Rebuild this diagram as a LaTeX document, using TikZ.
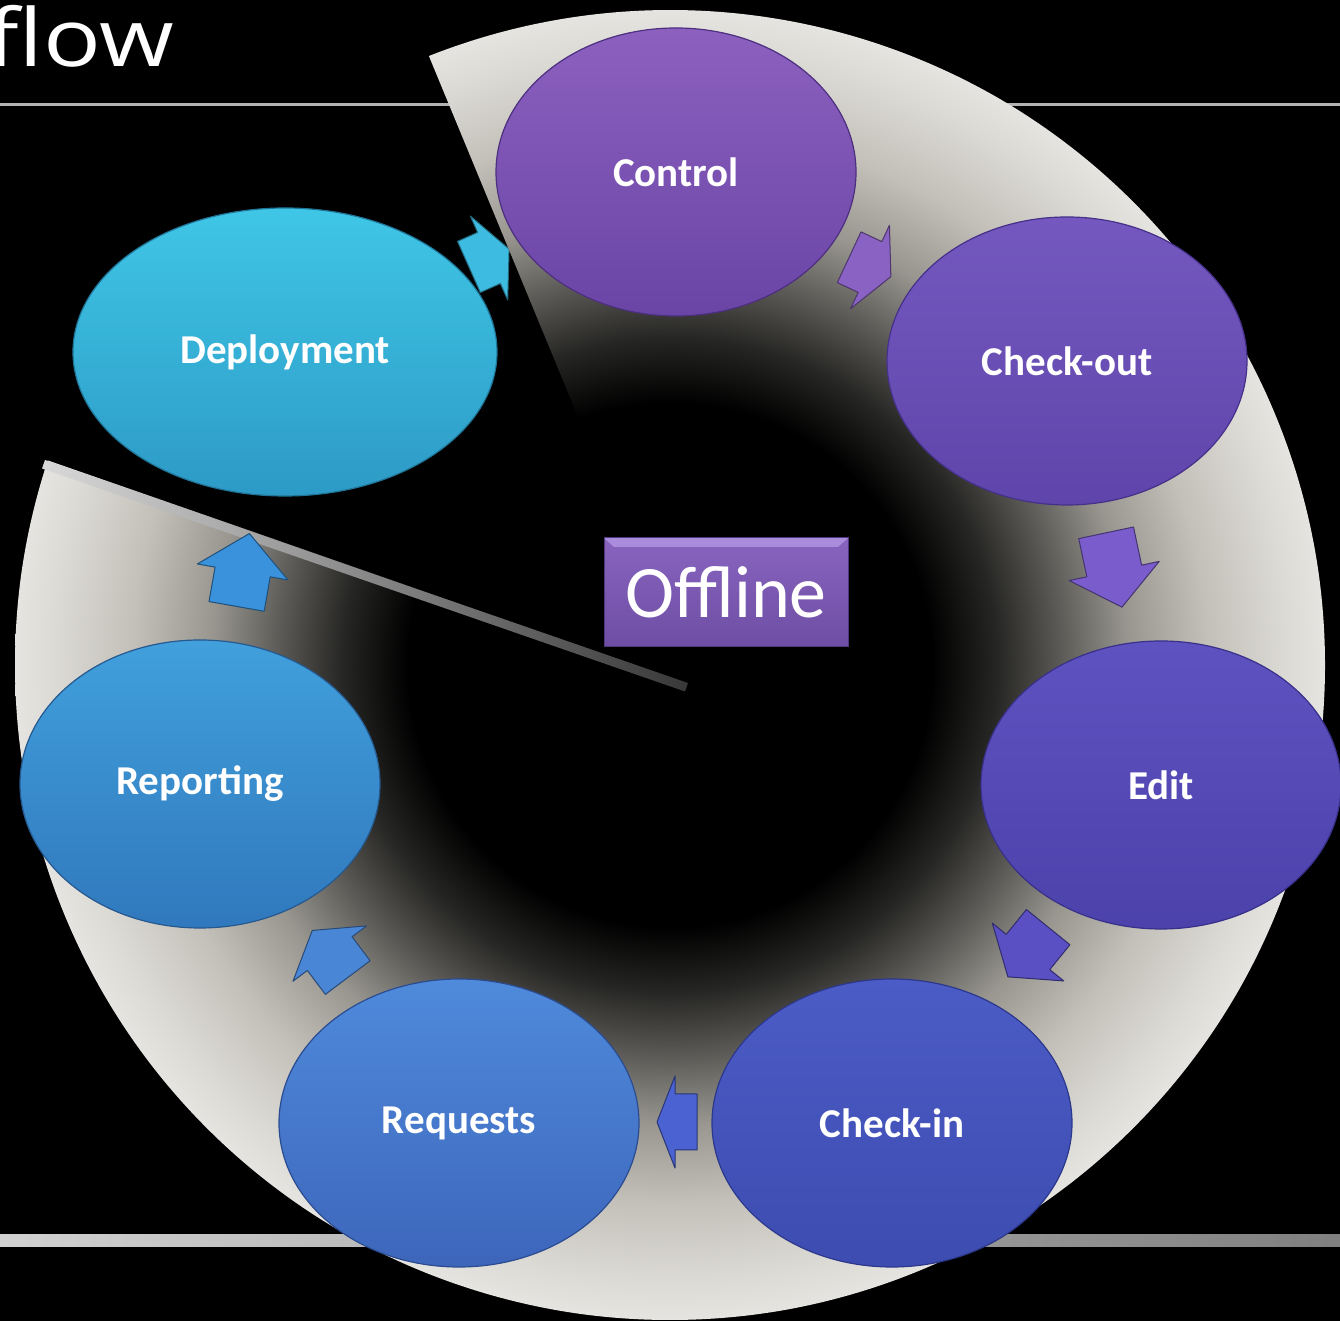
\documentclass[tikz,border=0pt]{standalone}
\usepackage{fontspec}
\setmainfont{Carlito}
\newfontfamily\titlefont{Open Sans}
\usetikzlibrary{shapes.geometric}
\definecolor{rg1}{HTML}{262624}
\definecolor{rg2}{HTML}{5E5C58}
\definecolor{rg3}{HTML}{98968F}
\definecolor{rg4}{HTML}{C3C0B9}
\definecolor{rg5}{HTML}{DCDAD5}
\definecolor{rg6}{HTML}{E6E4E0}
% ellipse colours
\definecolor{ctrlT}{HTML}{8C60BF}\definecolor{ctrlB}{HTML}{6A45A6}\definecolor{ctrlD}{HTML}{4D2F80}
\definecolor{coT}{HTML}{7458BF}\definecolor{coB}{HTML}{5F45AB}\definecolor{coD}{HTML}{45308A}
\definecolor{edT}{HTML}{5E52C0}\definecolor{edB}{HTML}{4C42AB}\definecolor{edD}{HTML}{38308A}
\definecolor{ciT}{HTML}{4C5CC6}\definecolor{ciB}{HTML}{3D4CB0}\definecolor{ciD}{HTML}{2C388C}
\definecolor{rqT}{HTML}{4F8ADB}\definecolor{rqB}{HTML}{3D66BB}\definecolor{rqD}{HTML}{2B4C90}
\definecolor{rpT}{HTML}{41A0DC}\definecolor{rpB}{HTML}{3078BD}\definecolor{rpD}{HTML}{25598F}
\definecolor{dpT}{HTML}{3FC6E6}\definecolor{dpB}{HTML}{2D9AC6}\definecolor{dpD}{HTML}{1F7598}
% arrow colours
\definecolor{aDC}{HTML}{3DBBE0}
\definecolor{aCC}{HTML}{8A62C4}
\definecolor{aCE}{HTML}{7A5CCC}
\definecolor{aEC}{HTML}{5A50C4}
\definecolor{aCR}{HTML}{4A62D2}
\definecolor{aRR}{HTML}{4A86D6}
\definecolor{aRD}{HTML}{3A92DC}
% box colours
\definecolor{offT}{HTML}{8864BE}\definecolor{offB}{HTML}{6E4EA5}\definecolor{offD}{HTML}{50377D}\definecolor{offH}{HTML}{AA8CDC}
\pgfdeclareradialshading{ringshade}{\pgfpoint{0bp}{0bp}}{color(0bp)=(black); color(10bp)=(black); color(12.5bp)=(rg1); color(15bp)=(rg2); color(17.5bp)=(rg3); color(20.5bp)=(rg4); color(23.5bp)=(rg5); color(25bp)=(rg6); color(50bp)=(rg6)}
\newcommand{\blockarrow}[6]{%
  \begin{scope}[shift={(#1,#2)},rotate=#3]
    \filldraw[fill=#6, draw=#6!55!black, line width=1pt, line join=round]
      ({-#4/2},-28) -- ({#4/2-#5},-28) -- ({#4/2-#5},-46) -- ({#4/2},0)
      -- ({#4/2-#5},46) -- ({#4/2-#5},28) -- ({-#4/2},28) -- cycle;
  \end{scope}}
\tikzset{
  ell/.style={ellipse, inner sep=0pt, minimum width=360pt, minimum height=288pt,
    text=white, font=\fontsize{41}{48}\selectfont\bfseries, line width=1.2pt},
}
\begin{document}
\begin{tikzpicture}[x=1pt,y=1pt]
\useasboundingbox (0,0) rectangle (1340,1321);
\fill[black] (0,0) rectangle (1340,1321);
% title and rules
\node[anchor=base east, text=white, inner sep=0pt, xscale=1.2, font=\titlefont\fontsize{80}{90}\selectfont] (title) at (174,1254) {flow};
\fill[white!70!black] (0,1214.5) rectangle (1340,1217.5);
\shade[left color=white!82!black, right color=white!50!black] (0,74) rectangle (1340,86);
% arrow partly hidden behind the pie
\blockarrow{489}{1063}{24}{44}{22}{aDC}
% pie
\coordinate (C) at (670,656);
\coordinate (apex) at (688,638);
\begin{scope}
  \clip (apex) -- ([shift={(161.8:655pt)}]C) arc[start angle=161.8, end angle=471.6, radius=655pt] -- cycle;
  \shade[shading=ringshade] (C) circle[radius=655pt];
\end{scope}
% bevel along lower wedge edge
\shade[left color=white!85!black, right color=white!22!black]
  (45,861) -- (688,638) -- (685,629.5) -- (42,852.5) -- cycle;
% ellipses
\node[ell, top color=ctrlT, bottom color=ctrlB, draw=ctrlD] (control) at (676,1149) {Control};
\node[ell, top color=coT, bottom color=coB, draw=coD] (checkout) at (1067,960) {Check-out};
\node[ell, top color=edT, bottom color=edB, draw=edD] (edit) at (1161,536) {Edit};
\node[ell, top color=ciT, bottom color=ciB, draw=ciD] (checkin) at (892,198) {Check-in};
\node[ell, top color=rqT, bottom color=rqB, draw=rqD] (requests) at (459,198) {Requests};
\node[ell, top color=rpT, bottom color=rpB, draw=rpD] (reporting) at (200,537) {Reporting};
\node[ell, minimum width=424pt, top color=dpT, bottom color=dpB, draw=dpD] (deployment) at (285,969) {Deployment};
% arrows
\blockarrow{870}{1054}{-25}{46}{23}{aCC}
\blockarrow{1114}{751}{-78}{76}{37}{aCE}
\blockarrow{1028}{369}{-129}{64}{32}{aEC}
\blockarrow{677}{199}{180}{40}{18}{aCR}
\blockarrow{330}{367}{127}{59}{29}{aRR}
\blockarrow{243}{751}{80}{74}{39}{aRD}
% centre box
\node[rectangle, minimum width=244pt, minimum height=109pt, inner sep=0pt,
  top color=offT, bottom color=offB, draw=offD, line width=1pt, text=white,
  font=\fontsize{74}{80}\selectfont,
  path picture={\fill[offH] (path picture bounding box.north west) -- (path picture bounding box.north east) -- ([shift={(-10pt,-9pt)}]path picture bounding box.north east) -- ([shift={(10pt,-9pt)}]path picture bounding box.north west) -- cycle;}]
  (offline) at (726,728.5) {Offline};
\end{tikzpicture}
\end{document}
